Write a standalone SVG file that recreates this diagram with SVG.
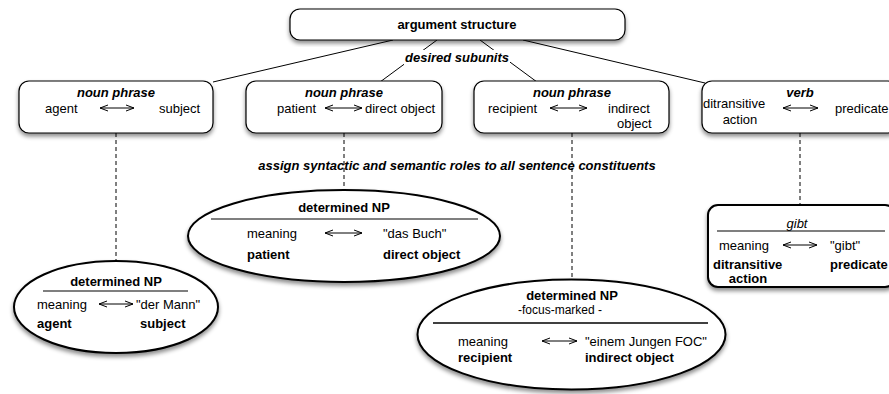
<svg xmlns="http://www.w3.org/2000/svg" width="889" height="394" viewBox="0 0 889 394">
<style>
text{font-family:"Liberation Sans",Arial,sans-serif;font-size:13px;fill:#000}
.b{font-weight:bold}
.bi{font-weight:bold;font-style:italic}
.i{font-style:italic}
.m{text-anchor:middle}
.box{fill:#fff;stroke:#000;stroke-width:1.2}
.thick{fill:#fff;stroke:#000;stroke-width:2}
.conn{stroke:#000;stroke-width:1;fill:none}
.dash{stroke:#000;stroke-width:1;fill:none;stroke-dasharray:4,3}
.dbl{stroke:#000;stroke-width:1;fill:none;marker-start:url(#ah);marker-end:url(#ah)}
.rule{stroke:#000;stroke-width:1.2}
</style>
<defs>
<filter id="sh" x="-10%" y="-10%" width="120%" height="130%">
<feDropShadow dx="0" dy="3" stdDeviation="2" flood-color="#000" flood-opacity="0.45"/>
</filter>
<marker id="ah" viewBox="0 0 10 8" refX="9" refY="4" markerWidth="10" markerHeight="8" markerUnits="userSpaceOnUse" orient="auto-start-reverse">
<path d="M1,1 L9,4 L1,7" fill="none" stroke="#000" stroke-width="1"/>
</marker>
</defs>

<g id="connectors">
<line class="conn" x1="393" y1="40" x2="213" y2="82"/>
<line class="conn" x1="437" y1="40" x2="380" y2="82"/>
<line class="conn" x1="480" y1="40" x2="537" y2="82"/>
<line class="conn" x1="523" y1="40" x2="705" y2="83"/>
<line class="dash" x1="116" y1="133" x2="116" y2="262"/>
<line class="dash" x1="344" y1="133" x2="344" y2="190"/>
<line class="dash" x1="572" y1="133" x2="572" y2="280"/>
<line class="dash" x1="800" y1="133" x2="800" y2="204"/>
</g>

<g id="label-desired">
<rect x="404" y="50" width="106" height="15" fill="#fff"/>
<text class="bi m" x="457" y="62">desired subunits</text>
</g>
<g id="label-assign">
<text class="bi m" x="457" y="170">assign syntactic and semantic roles to all sentence constituents</text>
</g>

<g id="argument-structure">
<rect class="box" x="290" y="9" width="335" height="31" rx="10" filter="url(#sh)"/>
<text class="b m" x="457" y="29">argument structure</text>
</g>

<g id="np-agent">
<rect class="box" x="19" y="81" width="194" height="52" rx="10" filter="url(#sh)"/>
<text class="bi m" x="116" y="97">noun phrase</text>
<text x="45" y="113">agent</text>
<line class="dbl" x1="100" y1="108" x2="134" y2="108"/>
<text x="159" y="113">subject</text>
</g>

<g id="np-patient">
<rect class="box" x="246" y="81" width="196" height="52" rx="10" filter="url(#sh)"/>
<text class="bi m" x="344" y="97">noun phrase</text>
<text x="277" y="113">patient</text>
<line class="dbl" x1="325" y1="108" x2="362" y2="108"/>
<text x="365" y="113">direct object</text>
</g>

<g id="np-recipient">
<rect class="box" x="474" y="81" width="195" height="52" rx="10" filter="url(#sh)"/>
<text class="bi m" x="572" y="97">noun phrase</text>
<text x="488" y="113">recipient</text>
<line class="dbl" x1="550" y1="108" x2="587" y2="108"/>
<text x="608" y="113">indirect</text>
<text x="617" y="128">object</text>
</g>

<g id="verb">
<rect class="box" x="702" y="81" width="196" height="52" rx="10" filter="url(#sh)"/>
<text class="bi m" x="800" y="97">verb</text>
<text x="703" y="108">ditransitive</text>
<text class="m" x="740" y="124">action</text>
<line class="dbl" x1="783" y1="108" x2="818" y2="108"/>
<text x="835" y="113">predicate</text>
</g>

<g id="dnp-agent">
<ellipse class="thick" cx="116" cy="307" rx="102" ry="46" filter="url(#sh)"/>
<text class="b m" x="116" y="286">determined NP</text>
<line class="rule" x1="43" y1="291" x2="188" y2="291"/>
<text x="37" y="309">meaning</text>
<line class="dbl" x1="99" y1="304" x2="133" y2="304"/>
<text x="136" y="309">"der Mann"</text>
<text class="b" x="37" y="328">agent</text>
<text class="b" x="140" y="328">subject</text>
</g>

<g id="dnp-patient">
<ellipse class="thick" cx="344" cy="236" rx="156" ry="46" filter="url(#sh)"/>
<text class="b m" x="344" y="212">determined NP</text>
<line class="rule" x1="211" y1="219" x2="478" y2="219"/>
<text x="247" y="238">meaning</text>
<line class="dbl" x1="325" y1="233" x2="362" y2="233"/>
<text x="383" y="238">"das Buch"</text>
<text class="b" x="247" y="259">patient</text>
<text class="b" x="383" y="259">direct object</text>
</g>

<g id="dnp-recipient">
<ellipse class="thick" cx="571.5" cy="334.5" rx="154" ry="55" filter="url(#sh)"/>
<text class="b m" x="572" y="300">determined NP</text>
<text class="m" x="560" y="314" style="font-size:12px">-focus-marked -</text>
<line class="rule" x1="433" y1="323" x2="708" y2="323" style="stroke-width:1.6"/>
<text x="458" y="346">meaning</text>
<line class="dbl" x1="542" y1="341" x2="577" y2="341"/>
<text x="585" y="346">"einem Jungen FOC"</text>
<text class="b" x="458" y="362">recipient</text>
<text class="b" x="585" y="362">indirect object</text>
</g>

<g id="gibt">
<rect class="thick" x="708" y="205" width="187" height="82" rx="10" filter="url(#sh)"/>
<text class="i m" x="797" y="228">gibt</text>
<line class="rule" x1="717" y1="231" x2="885" y2="231"/>
<text x="719" y="250">meaning</text>
<line class="dbl" x1="783" y1="245" x2="817" y2="245"/>
<text x="830" y="250">"gibt"</text>
<text class="b" x="713" y="269">ditransitive</text>
<text class="b m" x="748" y="283">action</text>
<text class="b" x="830" y="269">predicate</text>
</g>
</svg>
